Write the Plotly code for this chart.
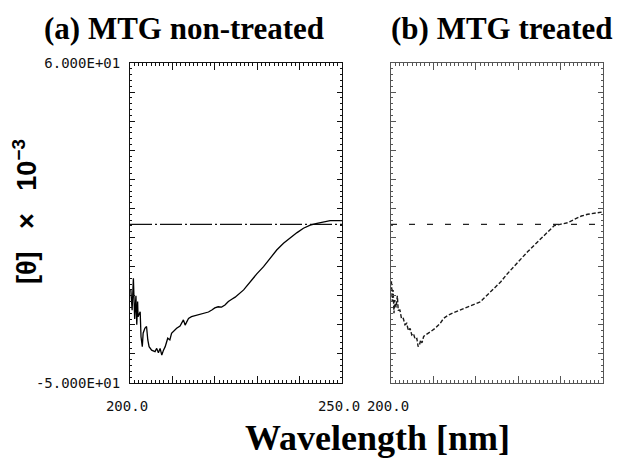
import plotly.graph_objects as go

# ---------------- data ----------------
wl_a = [200.2, 200.5, 200.8, 201.1, 201.4, 201.6, 201.8, 201.9, 202.4, 202.6, 202.9, 203.1,
        203.5, 203.9, 204.2, 204.5, 205.1, 205.9, 206.3, 206.7, 207.1, 207.5, 207.9, 208.3,
        208.9, 209.4, 209.8, 210.5, 211.0, 211.8, 212.6, 213.0, 213.8, 214.5, 215.3, 216.1,
        216.9, 217.7, 218.5, 219.3, 220.0, 220.8, 221.6, 222.4, 223.2, 224.0, 224.8, 226.8,
        228.3, 229.9, 231.5, 233.1, 234.6, 236.2, 237.8, 239.4, 240.9, 242.5, 244.1, 245.7,
        247.2, 249.6, 250.0]
cd_a = [-18.0, -25.0, -14.0, -28.0, -20.0, -30.0, -22.0, -27.2, -25.5, -34.1, -37.5, -32.9,
        -31.2, -30.6, -35.2, -37.5, -38.7, -39.2, -38.1, -39.6, -38.1, -40.4, -38.7, -37.5,
        -34.6, -35.2, -32.9, -31.8, -31.2, -30.4, -28.3, -30.1, -27.8, -27.2, -26.9, -26.6,
        -26.2, -26.0, -25.6, -24.9, -24.2, -23.8, -23.9, -23.2, -22.0, -21.2, -20.5, -18.0,
        -15.2, -12.5, -10.0, -7.2, -4.3, -2.0, 0.0, 1.7, 3.2, 4.3, 4.9, 5.5,
        5.8, 5.8, 5.8]

wl_b = [200.1, 200.3, 200.5, 200.7, 200.9, 201.2, 201.5, 201.7, 202.1, 202.5, 202.9, 203.3,
        203.7, 204.1, 204.5, 204.9, 205.3, 205.7, 206.1, 206.4, 206.7, 207.0, 207.3, 207.7,
        208.1, 208.7, 209.3, 210.4, 211.6, 212.4, 213.6, 214.8, 216.4, 218.0, 219.5, 221.1,
        221.9, 222.7, 224.3, 225.9, 227.4, 229.0, 230.6, 232.2, 233.8, 235.4, 236.9, 238.5,
        240.1, 241.7, 243.3, 244.9, 246.4, 248.0, 249.6, 250.0]
cd_b = [-15.0, -22.0, -18.0, -26.0, -21.5, -24.0, -20.0, -25.0, -24.9, -28.0, -27.8, -30.0,
        -29.5, -32.0, -31.2, -33.5, -33.0, -35.0, -34.7, -37.5, -37.0, -35.2, -36.2, -34.0,
        -33.5, -33.0, -32.4, -31.2, -29.5, -27.8, -26.6, -25.8, -24.9, -24.0, -23.2, -22.1,
        -20.9, -19.8, -17.5, -15.2, -12.5, -10.0, -7.2, -4.9, -2.6, -0.3, 2.0, 4.1,
        4.6, 5.1, 6.3, 7.4, 8.0, 8.3, 8.8, 8.8]

baseline_x = [200.0, 250.0]
baseline_y = [4.5, 4.5]

x_range = [200.0, 250.0]
y_range = [-50.0, 60.0]
x_tickvals = [200, 210, 220, 230, 240, 250]
x_ticktext = ["200.0", " ", " ", " ", " ", "250.0"]
y_tickvals = [-50, -40, -30, -20, -10, 0, 10, 20, 30, 40, 50, 60]
y_ticktext_a = ["-5.000E+01", " ", " ", " ", " ", " ", " ", " ", " ", " ", " ", "6.000E+01"]
y_ticktext_b = [" "] * 12

titles = ["(a) MTG non-treated", "(b) MTG treated"]
x_title = "Wavelength [nm]"
y_title = "[θ]   ×   10<sup>−3</sup>"

# ---------------- figure ----------------
W, H = 621, 463
fig = go.Figure()

fig.add_trace(go.Scatter(x=baseline_x, y=baseline_y, mode="lines", xaxis="x", yaxis="y",
                         line=dict(color="#111", width=1.2, dash="22px,3px,2px,3px"),
                         showlegend=False, hoverinfo="skip"))
fig.add_trace(go.Scatter(x=wl_a, y=cd_a, mode="lines", xaxis="x", yaxis="y",
                         line=dict(color="#000", width=1.3), showlegend=False))
fig.add_trace(go.Scatter(x=baseline_x, y=baseline_y, mode="lines", xaxis="x2", yaxis="y2",
                         line=dict(color="#222", width=1.2, dash="6px,12px"),
                         showlegend=False, hoverinfo="skip"))
fig.add_trace(go.Scatter(x=wl_b, y=cd_b, mode="lines", xaxis="x2", yaxis="y2",
                         line=dict(color="#1a1a1a", width=1.4, dash="4px,2px"), showlegend=False))

tick_font = dict(family="DejaVu Sans Mono", size=14, color="#111")

def xaxis(domain, anchor, color):
    return dict(domain=domain, anchor=anchor, range=x_range, showgrid=False, zeroline=False,
                automargin=False,
                showline=True, linecolor=color, linewidth=1, mirror="ticks",
                tickmode="array", tickvals=x_tickvals, ticktext=x_ticktext,
                ticks="inside", ticklen=7, tickcolor=color, tickwidth=1,
                minor=dict(dtick=1, ticks="inside", ticklen=3, tickcolor=color, tickwidth=1, showgrid=False),
                tickfont=tick_font, ticklabelstandoff=10, ticklabelshift=-3)

def yaxis(domain, anchor, color, texts):
    return dict(domain=domain, anchor=anchor, range=y_range, showgrid=False, zeroline=False,
                automargin=False,
                showline=True, linecolor=color, linewidth=1, mirror="ticks",
                tickmode="array", tickvals=y_tickvals, ticktext=texts,
                ticks="inside", ticklen=5, tickcolor=color, tickwidth=1,
                minor=dict(dtick=2, ticks="inside", ticklen=2, tickcolor=color, tickwidth=1, showgrid=False),
                tickfont=tick_font, ticklabelstandoff=6)

ydom = [1 - 383 / H, 1 - 63 / H]
fig.update_layout(
    width=W, height=H, margin=dict(l=0, r=0, t=0, b=0, autoexpand=False),
    paper_bgcolor="white", plot_bgcolor="white",
    xaxis=xaxis([130 / W, 342 / W], "y", "#111"),
    yaxis=yaxis(ydom, "x", "#111", y_ticktext_a),
    xaxis2=xaxis([391 / W, 603 / W], "y2", "#555"),
    yaxis2=yaxis(ydom, "x2", "#555", y_ticktext_b),
)

serif_bold = dict(family="Liberation Serif", size=31, color="#000")
fig.add_annotation(text="<b>%s</b>" % titles[0], x=184 / W, y=1 - 28 / H, xref="paper", yref="paper",
                   showarrow=False, xanchor="center", yanchor="middle", font=serif_bold)
fig.add_annotation(text="<b>%s</b>" % titles[1], x=502 / W, y=1 - 28 / H, xref="paper", yref="paper",
                   showarrow=False, xanchor="center", yanchor="middle", font=serif_bold)
fig.add_annotation(text="<b>%s</b>" % x_title, x=377 / W, y=1 - 438 / H, xref="paper", yref="paper",
                   showarrow=False, xanchor="center", yanchor="middle",
                   font=dict(family="Liberation Serif", size=36, color="#000"))
fig.add_annotation(text="<b>%s</b>" % y_title, x=25 / W, y=1 - 212 / H, xref="paper", yref="paper",
                   showarrow=False, xanchor="center", yanchor="middle", textangle=-90,
                   font=dict(family="Liberation Sans", size=27, color="#000"))

fig.write_html("out.html", config={"responsive": False, "displayModeBar": False},
               post_script="document.body.style.margin='0';document.body.style.overflow='hidden';")
